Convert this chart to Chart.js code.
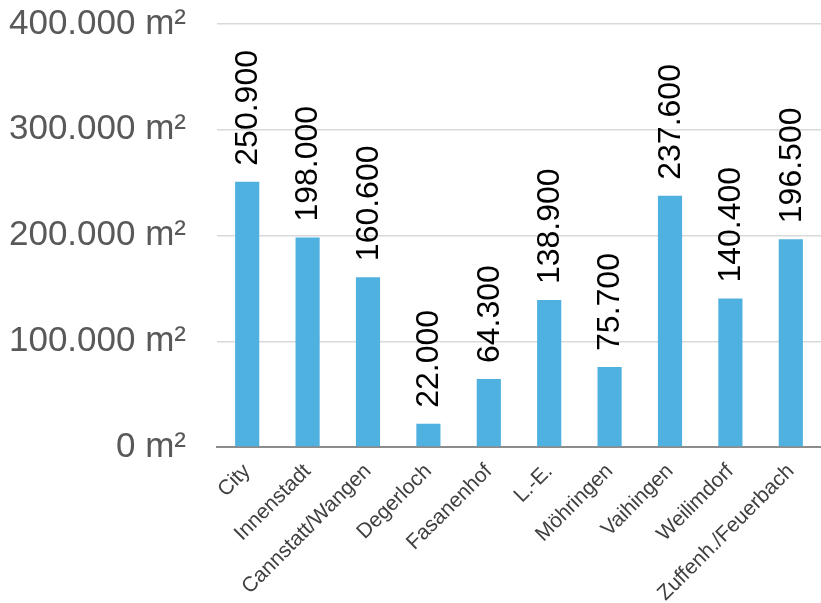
<!DOCTYPE html>
<html>
<head>
<meta charset="utf-8">
<script src="https://cdn.jsdelivr.net/npm/chart.js@4"></script>
<style>
  html, body { margin: 0; padding: 0; background: #fff; }
</style>
</head>
<body>
<canvas id="areaChart" width="821" height="603"></canvas>
<script>
const districts = ['City', 'Innenstadt', 'Cannstatt/Wangen', 'Degerloch', 'Fasanenhof', 'L.-E.', 'Möhringen', 'Vaihingen', 'Weilimdorf', 'Zuffenh./Feuerbach'];
const areas = [250900, 198000, 160600, 22000, 64300, 138900, 75700, 237600, 140400, 196500];
const yTicks = [0, 100000, 200000, 300000, 400000];

function formatDe(n) {
    return String(n).replace(/\B(?=(\d{3})+(?!\d))/g, '.');
}

const FONT = '"Liberation Sans", Arial, sans-serif';

// draws the rotated value labels above each bar
const valueLabels = {
    id: 'valueLabels',
    afterDatasetsDraw(chart) {
        const ctx = chart.ctx;
        const meta = chart.getDatasetMeta(0);
        ctx.save();
        ctx.font = '32px ' + FONT;
        ctx.fillStyle = '#000';
        ctx.textAlign = 'left';
        ctx.textBaseline = 'middle';
        meta.data.forEach((bar, i) => {
            ctx.save();
            ctx.translate(bar.x, bar.y - 16);
            ctx.rotate(-Math.PI / 2);
            ctx.fillText(formatDe(areas[i]), 0, 1);
            ctx.restore();
        });
        ctx.restore();
    }
};

const ctx = document.getElementById('areaChart').getContext('2d');

new Chart(ctx, {
    type: 'bar',
    data: {
        labels: districts,
        datasets: [{
            data: areas,
            backgroundColor: '#4FB1DF',
            barPercentage: 0.4,
            categoryPercentage: 1
        }]
    },
    options: {
        responsive: false,
        animation: false,
        layout: { padding: { top: 24, left: 0, right: 0, bottom: 0 } },
        plugins: {
            legend: { display: false },
            tooltip: { enabled: false }
        },
        scales: {
            x: {
                grid: { display: false },
                border: { color: '#8c8c8c', width: 2 },
                ticks: {
                    minRotation: 45,
                    maxRotation: 45,
                    padding: 4,
                    color: '#404040',
                    font: { size: 21, family: FONT }
                },
                afterFit(scale) {
                    scale.height = 156;
                    scale.paddingLeft = 0;
                    scale.paddingRight = 0;
                }
            },
            y: {
                min: 0,
                max: 400000,
                afterBuildTicks(scale) {
                    scale.ticks = yTicks.map(v => ({ value: v }));
                },
                grid: { color: '#d9d9d9', lineWidth: 1.5, drawTicks: false },
                border: { display: false },
                ticks: {
                    padding: 31,
                    color: '#595959',
                    font: { size: 35, family: FONT },
                    callback: v => formatDe(v) + ' m²'
                },
                afterFit(scale) {
                    scale.width = 217;
                    scale.paddingTop = 0;
                    scale.paddingBottom = 0;
                }
            }
        }
    },
    plugins: [valueLabels]
});
</script>
</body>
</html>
